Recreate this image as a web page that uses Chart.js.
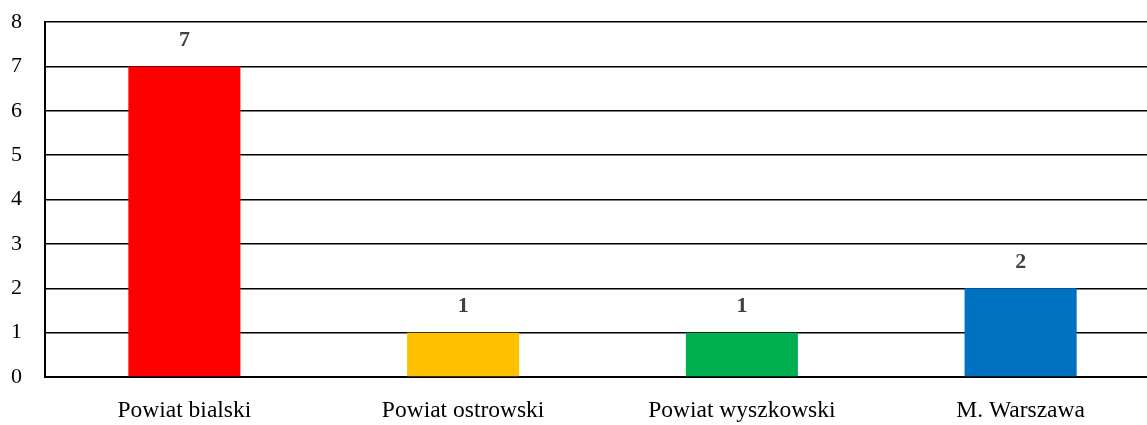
<!DOCTYPE html>
<html>
<head>
<meta charset="utf-8">
<script src="https://cdn.jsdelivr.net/npm/chart.js@4"></script>
<style>
html,body{margin:0;padding:0;background:#fff;overflow:hidden;width:1147px;height:425px;}
#wrap{width:1160px;height:425px;}
</style>
</head>
<body>
<div id="wrap"><canvas id="c" width="1160" height="425"></canvas></div>
<script>
const categories = ["Powiat bialski", "Powiat ostrowski", "Powiat wyszkowski", "M. Warszawa"];
const values = [7, 1, 1, 2];
const barColors = ["#FF0000", "#FFC000", "#00B050", "#0070C0"];
const yTicks = [0, 1, 2, 3, 4, 5, 6, 7, 8];

const valueLabels = {
  id: 'valueLabels',
  afterDatasetsDraw(chart) {
    const ctx = chart.ctx;
    const meta = chart.getDatasetMeta(0);
    ctx.save();
    ctx.font = 'bold 22px "Liberation Serif"';
    ctx.fillStyle = '#404040';
    ctx.textAlign = 'center';
    ctx.textBaseline = 'middle';
    meta.data.forEach((bar, i) => {
      ctx.fillText(String(values[i]), bar.x, bar.y - 26);
    });
    ctx.restore();
  }
};

new Chart(document.getElementById('c'), {
  type: 'bar',
  data: {
    labels: categories,
    datasets: [{
      data: values,
      backgroundColor: barColors,
      borderWidth: 0,
      barPercentage: 0.402,
      categoryPercentage: 1
    }]
  },
  options: {
    responsive: false,
    animation: false,
    devicePixelRatio: 1,
    layout: { padding: { top: 22, right: 0, bottom: 0, left: 0 } },
    plugins: { legend: { display: false }, tooltip: { enabled: false } },
    scales: {
      x: {
        grid: { display: false, drawTicks: false },
        border: { display: true, color: '#000', width: 2 },
        ticks: {
          color: '#000',
          font: { family: '"Liberation Serif"', size: 23.5 },
          padding: 20,
          maxRotation: 0
        },
        afterFit(scale) { scale.height = 48; scale.paddingLeft = 0; scale.paddingRight = 0; }
      },
      y: {
        min: 0,
        max: 8,
        afterBuildTicks(scale) { scale.ticks = yTicks.map(v => ({ value: v })); },
        grid: { color: '#000', lineWidth: 1.5, drawTicks: false },
        border: { display: true, color: '#000', width: 2 },
        ticks: {
          color: '#000',
          font: { family: '"Liberation Serif"', size: 22 },
          padding: 23
        },
        afterFit(scale) { scale.width = 45; scale.paddingTop = 0; scale.paddingBottom = 0; }
      }
    }
  },
  plugins: [valueLabels]
});
</script>
</body>
</html>
